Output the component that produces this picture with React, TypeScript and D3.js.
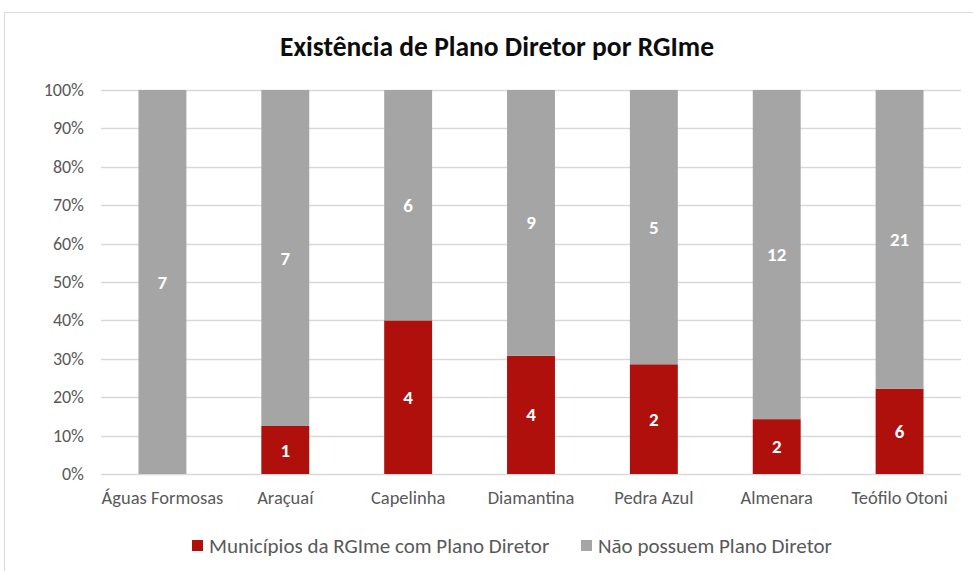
import { useEffect, useRef } from 'react'
import * as d3 from 'd3'

const W = 973
const H = 571
const PLOT = { left: 101, right: 961, top: 90, bottom: 474 }

const categories = ['Águas Formosas', 'Araçuaí', 'Capelinha', 'Diamantina', 'Pedra Azul', 'Almenara', 'Teófilo Otoni']
const comPlano = [0, 1, 4, 4, 2, 2, 6]
const semPlano = [7, 7, 6, 9, 5, 12, 21]
const yTicks = [0, 0.1, 0.2, 0.3, 0.4, 0.5, 0.6, 0.7, 0.8, 0.9, 1]

const SERIES = [
  { key: 'com', label: 'Municípios da RGIme com Plano Diretor', color: '#B0100C', values: comPlano },
  { key: 'sem', label: 'Não possuem Plano Diretor', color: '#A5A5A5', values: semPlano },
]

const FONT = "Carlito, Calibri, Lato, sans-serif"

export default function App() {
  const svgRef = useRef<SVGSVGElement>(null)

  useEffect(() => {
    if (!svgRef.current) return
    const svg = d3.select(svgRef.current)
    svg.selectAll('*').remove()

    const x = d3.scaleBand().domain(categories).range([PLOT.left, PLOT.right]).paddingInner(0.61).paddingOuter(0.305)
    const y = d3.scaleLinear().domain([0, 1]).range([PLOT.bottom, PLOT.top])

    // chart border
    svg.append('rect')
      .attr('x', 4.5).attr('y', 12.5).attr('width', W + 10).attr('height', H + 10)
      .attr('fill', 'white').attr('stroke', '#D9D9D9')

    // title
    svg.append('text')
      .attr('x', 497).attr('y', 56)
      .attr('text-anchor', 'middle')
      .attr('font-family', FONT).attr('font-size', 27.5).attr('font-weight', 'bold')
      .attr('fill', '#0d0d0d')
      .text('Existência de Plano Diretor por RGIme')

    // gridlines + y labels
    yTicks.forEach((t) => {
      svg.append('line')
        .attr('x1', PLOT.left).attr('x2', PLOT.right)
        .attr('y1', Math.round(y(t)) + 0.5).attr('y2', Math.round(y(t)) + 0.5)
        .attr('stroke', '#D9D9D9').attr('stroke-width', 1.5)
      svg.append('text')
        .attr('x', 84).attr('y', y(t))
        .attr('text-anchor', 'end').attr('dominant-baseline', 'central')
        .attr('font-family', FONT).attr('font-size', 18).attr('fill', '#595959')
        .text(d3.format('.0%')(t))
    })

    // stacked bars (100%)
    categories.forEach((c, i) => {
      const total = comPlano[i] + semPlano[i]
      let acc = 0
      SERIES.forEach((s) => {
        const v = s.values[i]
        if (v === 0) return
        const y0 = acc / total
        const y1 = (acc + v) / total
        acc += v
        svg.append('rect')
          .attr('x', x(c)!).attr('width', x.bandwidth())
          .attr('y', y(y1)).attr('height', y(y0) - y(y1))
          .attr('fill', s.color)
        svg.append('text')
          .attr('x', x(c)! + x.bandwidth() / 2).attr('y', (y(y0) + y(y1)) / 2)
          .attr('text-anchor', 'middle').attr('dominant-baseline', 'central')
          .attr('font-family', FONT).attr('font-size', 19).attr('font-weight', 'bold')
          .attr('fill', 'white')
          .text(v)
      })
      svg.append('text')
        .attr('x', x(c)! + x.bandwidth() / 2).attr('y', 497)
        .attr('text-anchor', 'middle').attr('dominant-baseline', 'central')
        .attr('font-family', FONT).attr('font-size', 18.5).attr('fill', '#595959')
        .text(c)
    })

    // legend
    const legendX = [192, 581]
    SERIES.forEach((s, i) => {
      svg.append('rect')
        .attr('x', legendX[i]).attr('y', 540).attr('width', 11).attr('height', 11)
        .attr('fill', s.color)
      svg.append('text')
        .attr('x', legendX[i] + 17).attr('y', 546)
        .attr('dominant-baseline', 'central')
        .attr('font-family', FONT).attr('font-size', 21).attr('fill', '#595959')
        .text(s.label)
    })
  }, [])

  return (
    <svg ref={svgRef} width={W} height={H} style={{ position: 'absolute', left: 0, top: 0, background: 'white' }} />
  )
}
